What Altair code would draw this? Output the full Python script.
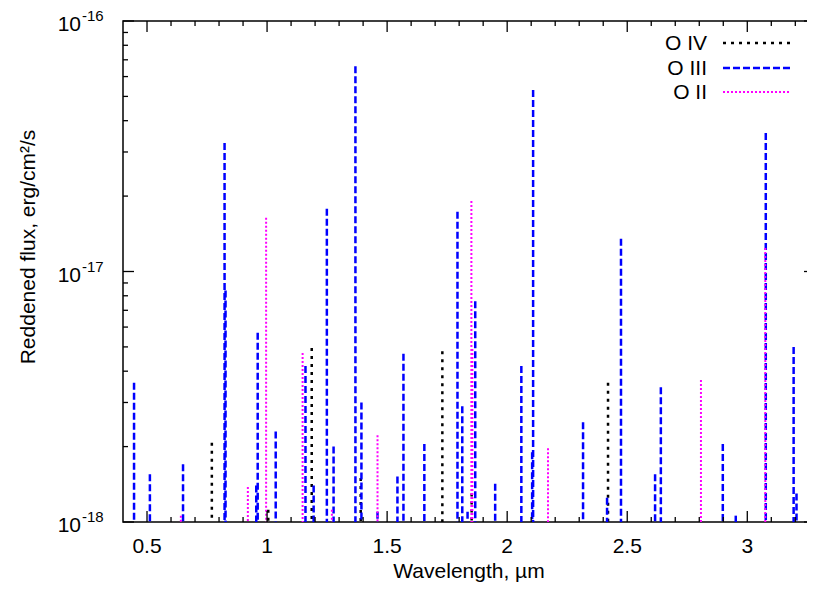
import altair as alt
import pandas as pd

# ---- data ----
o4_wl = [0.77, 1.005, 1.186, 1.39, 1.73, 1.852, 2.42, 3.275]
o4_flux = [2.07e-18, 1.12e-18, 4.95e-18, 1.5e-18, 4.8e-18, 1.3e-18, 3.6e-18, 2.6e-18]

o3_wl = [0.446, 0.512, 0.65, 0.823, 0.827, 0.955, 0.961, 1.036, 1.16, 1.194,
         1.249, 1.277, 1.368, 1.393, 1.46, 1.543, 1.568, 1.655, 1.793, 1.813,
         1.835, 1.867, 1.95, 2.059, 2.104, 2.108, 2.316, 2.416, 2.474, 2.616,
         2.64, 2.898, 2.952, 3.077, 3.193, 3.205]
o3_flux = [3.6e-18, 1.55e-18, 1.7e-18, 3.26e-17, 8.4e-18, 1.4e-18, 5.7e-18, 2.3e-18, 4.2e-18, 1.4e-18,
           1.78e-17, 2.0e-18, 6.6e-17, 3.0e-18, 1.1e-18, 1.52e-18, 4.7e-18, 2.05e-18, 1.73e-17, 2.9e-18,
           1.1e-18, 7.6e-18, 1.42e-18, 4.2e-18, 1.9e-18, 5.3e-17, 2.5e-18, 1.25e-18, 1.35e-17, 1.55e-18,
           3.45e-18, 2.05e-18, 1.06e-18, 3.57e-17, 5.0e-18, 1.3e-18]

o2_wl = [0.641, 0.92, 0.996, 1.148, 1.27, 1.46, 1.851, 1.855, 2.17, 2.807, 3.075]
o2_flux = [1.06e-18, 1.38e-18, 1.64e-17, 4.73e-18, 1.12e-18, 2.22e-18, 1.91e-17, 4.9e-18, 1.97e-18, 3.69e-18, 1.24e-17]

series_names = ["O IV", "O III", "O II"]
series_colors = ["#000000", "#0000ff", "#ff00ff"]
series_dash = [[3, 5], [7, 3], [2, 2]]
series_width = [2.5, 2.5, 2]

x_major = [0.5, 1.0, 1.5, 2.0, 2.5, 3.0]
x_major_labels = ["0.5", "1", "1.5", "2", "2.5", "3"]
x_minor = [round(0.1 * i, 1) for i in range(5, 33) if i % 5 != 0]
y_major = [1e-18, 1e-17, 1e-16]
y_major_exp = ["-18", "-17", "-16"]
y_minor = [m * 1e-18 for m in range(2, 10)] + [m * 1e-17 for m in range(2, 10)]

x_title = "Wavelength, µm"
y_title = "Reddened flux, erg/cm²/s"

# ---- layout ----
W, H = 692, 501
FONT = "Liberation Sans"
FS = 21
xs = alt.Scale(domain=[0.4, 3.282], nice=False, zero=False)
ys = alt.Scale(type="log", domain=[1e-18, 1e-16], nice=False)

layers = []

data_sets = [(o4_wl, o4_flux), (o3_wl, o3_flux), (o2_wl, o2_flux)]
for i, (wl, fl) in enumerate(data_sets):
    df = pd.DataFrame({"wl": wl, "flux": fl})
    layers.append(
        alt.Chart(df).mark_rule(color=series_colors[i], strokeDash=series_dash[i],
                                strokeWidth=series_width[i], clip=True).encode(
            x=alt.X("wl:Q", scale=xs, axis=None),
            y=alt.Y("flux:Q", scale=ys, axis=None),
            y2=alt.datum(1e-18),
        )
    )

# ---- inward ticks (gnuplot style) ----
def xticks(vals, length):
    d = pd.DataFrame({"v": vals})
    bot = alt.Chart(d).mark_rule(color="black", strokeWidth=1.3).encode(
        x=alt.X("v:Q", scale=xs, axis=None), y=alt.value(H), y2=alt.value(H - length))
    top = alt.Chart(d).mark_rule(color="black", strokeWidth=1.3).encode(
        x=alt.X("v:Q", scale=xs, axis=None), y=alt.value(0), y2=alt.value(length))
    return [bot, top]

def yticks(vals, length):
    d = pd.DataFrame({"v": vals})
    left = alt.Chart(d).mark_rule(color="black", strokeWidth=1.3).encode(
        y=alt.Y("v:Q", scale=ys, axis=None), x=alt.value(0), x2=alt.value(length))
    right = alt.Chart(d).mark_rule(color="black", strokeWidth=1.3).encode(
        y=alt.Y("v:Q", scale=ys, axis=None), x=alt.value(W), x2=alt.value(W - length))
    return [left, right]

layers += xticks(x_major, 11) + xticks(x_minor, 5)
layers += yticks(y_major, 11) + yticks(y_minor, 5)

# ---- x tick labels ----
xlab = pd.DataFrame({"v": x_major, "t": x_major_labels})
layers.append(
    alt.Chart(xlab).mark_text(align="center", baseline="alphabetic", font=FONT, fontSize=FS,
                              color="black").encode(
        x=alt.X("v:Q", scale=xs, axis=None), y=alt.value(H + 31), text="t:N")
)

# ---- y tick labels 10^n ----
ylab = pd.DataFrame({"v": y_major, "e": y_major_exp, "base": ["10"] * 3})
layers.append(
    alt.Chart(ylab).mark_text(align="right", baseline="alphabetic", font=FONT, fontSize=FS,
                              color="black", dy=10).encode(
        y=alt.Y("v:Q", scale=ys, axis=None), x=alt.value(-42), text="base:N")
)
layers.append(
    alt.Chart(ylab).mark_text(align="left", baseline="alphabetic", font=FONT, fontSize=15,
                              color="black", dy=0).encode(
        y=alt.Y("v:Q", scale=ys, axis=None), x=alt.value(-41), text="e:N")
)

# ---- axis titles ----
layers.append(
    alt.Chart(pd.DataFrame({"t": [x_title]})).mark_text(
        align="center", baseline="alphabetic", font=FONT, fontSize=FS, color="black").encode(
        x=alt.value(W / 2), y=alt.value(H + 56), text="t:N")
)
layers.append(
    alt.Chart(pd.DataFrame({"t": [y_title]})).mark_text(
        align="center", baseline="middle", font=FONT, fontSize=FS, color="black", angle=270).encode(
        x=alt.value(-94), y=alt.value(226), text="t:N")
)

# ---- legend (labels left of samples, as in gnuplot) ----
row_y = [22, 47, 71]
for i, name in enumerate(series_names):
    d = pd.DataFrame({"name": [name]})
    layers.append(
        alt.Chart(d).mark_text(align="right", baseline="alphabetic", font=FONT, fontSize=FS,
                               color="black").encode(
            x=alt.value(584), y=alt.value(row_y[i] + 7), text="name:N")
    )
    layers.append(
        alt.Chart(d).mark_rule(color=series_colors[i], strokeDash=series_dash[i],
                               strokeWidth=series_width[i]).encode(
            x=alt.value(600), x2=alt.value(667), y=alt.value(row_y[i]))
    )

chart = alt.layer(*layers).properties(
    width=W, height=H, autosize="none",
    padding={"left": 115, "top": 13, "right": -8, "bottom": 60},
    background="white",
).configure_view(stroke="black", strokeWidth=1.5)

chart.save("out.html", embed_options={"renderer": "svg", "actions": False})
